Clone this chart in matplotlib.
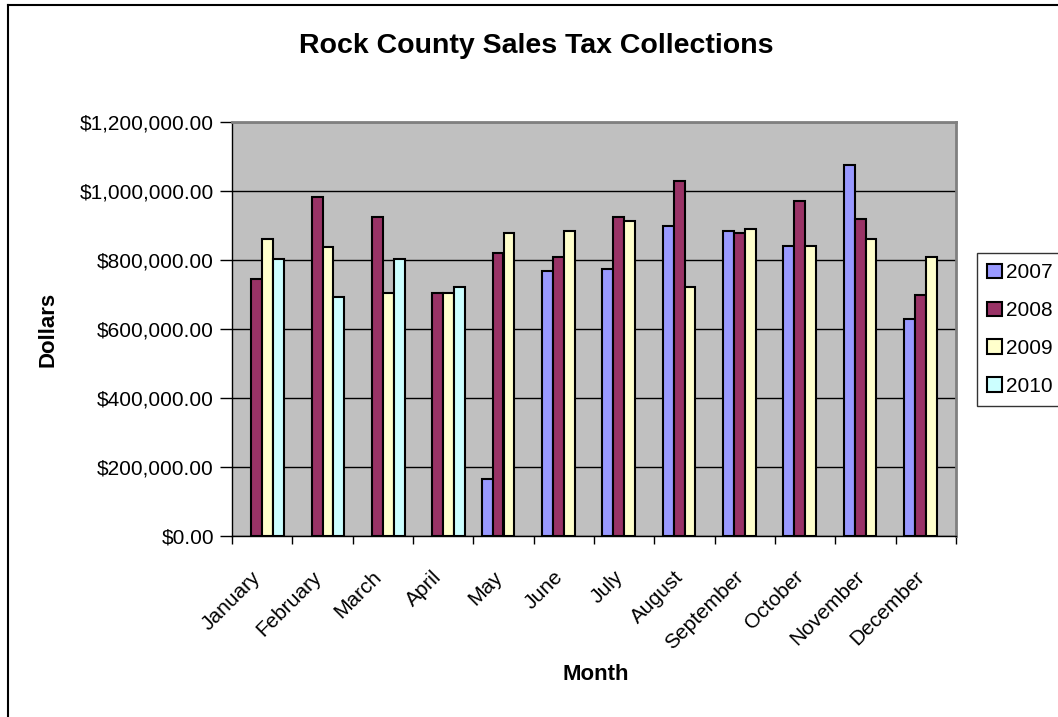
import numpy as np
import matplotlib
matplotlib.use("Agg")
import matplotlib.pyplot as plt
from matplotlib.lines import Line2D
from matplotlib.ticker import FuncFormatter, FixedLocator
from matplotlib.transforms import ScaledTranslation

plt.rcParams['font.family'] = ['Liberation Sans', 'DejaVu Sans']

months = ['January', 'February', 'March', 'April', 'May', 'June',
          'July', 'August', 'September', 'October', 'November', 'December']
years = ['2007', '2008', '2009', '2010']

nan = np.nan
tax_2007 = [nan, nan, nan, nan, 165000, 768000, 774000, 900000,
            885000, 842000, 1075000, 628000]
tax_2008 = [745000, 982000, 924000, 703000, 820000, 808000, 924000, 1028000,
            878000, 971000, 919000, 698000]
tax_2009 = [860000, 837000, 703000, 703000, 878000, 884000, 912000, 721000,
            889000, 842000, 861000, 808000]
tax_2010 = [802000, 692000, 803000, 722000, nan, nan, nan, nan,
            nan, nan, nan, nan]

series = [tax_2007, tax_2008, tax_2009, tax_2010]
colors = ['#9999FF', '#993366', '#FFFFCC', '#CCFFFF']

fig = plt.figure(figsize=(10.58, 7.17), dpi=100)
W, H = 1058, 717
ax = fig.add_axes([232 / W, 1 - 536 / H, 724 / W, 414 / H])
ax.set_facecolor('#C0C0C0')

x = np.arange(len(months))
w = 1 / 5.5
for i, (vals, c, yr) in enumerate(zip(series, colors, years)):
    ax.bar(x + (i - 1.5) * w, vals, width=w, color=c, edgecolor='black',
           linewidth=1.5, label=yr, zorder=3)

ax.set_xlim(-0.5, 11.5)
ax.set_ylim(0, 1200000)
ax.set_yticks(np.arange(0, 1200001, 200000))
ax.yaxis.set_major_formatter(FuncFormatter(lambda v, p: f"${v:,.2f}"))
ax.grid(axis='y', color='black', linewidth=1, zorder=1)

ax.set_xticks(x)
ax.set_xticklabels(months, rotation=45, ha='right', rotation_mode='anchor',
                   fontsize=15)
ax.tick_params(axis='x', which='major', length=0, pad=14)
ax.xaxis.set_minor_locator(FixedLocator(np.arange(-0.5, 12, 1)))
ax.tick_params(axis='x', which='minor', length=6, width=1, direction='out')
ax.tick_params(axis='y', labelsize=15, length=9, width=1, direction='out', pad=4)

# nudge month labels down-left like the original
shift = ScaledTranslation(-11 / 100, -12 / 100, fig.dpi_scale_trans)
for lab in ax.get_xticklabels():
    lab.set_transform(lab.get_transform() + shift)

for s in ['left', 'bottom']:
    ax.spines[s].set_color('black')
    ax.spines[s].set_linewidth(1)
for s in ['top', 'right']:
    ax.spines[s].set_color('#808080')
    ax.spines[s].set_linewidth(2)

fig.text(536 / W, 1 - 46 / H, 'Rock County Sales Tax Collections',
         fontsize=20.5, fontweight='bold', ha='center', va='center')
fig.text(48 / W, 1 - 329 / H, 'Dollars', fontsize=16, fontweight='bold',
         rotation=90, ha='center', va='center')
fig.text(596 / W, 1 - 675 / H, 'Month', fontsize=16, fontweight='bold',
         ha='center', va='center')

leg = ax.legend(loc='upper left', bbox_to_anchor=(977 / W, 1 - 253 / H),
                bbox_transform=fig.transFigure, fontsize=15, frameon=True,
                fancybox=False, edgecolor='black', handlelength=0.7,
                handleheight=0.7, handletextpad=0.2, labelspacing=0.9,
                borderpad=0.5, borderaxespad=0)
leg.get_frame().set_linewidth(1)

# outer chart border (runs off the right and bottom edge)
fig.add_artist(Line2D([8 / W, 8 / W], [1 - 5 / H, -0.1], color='black',
                      linewidth=1.5, transform=fig.transFigure))
fig.add_artist(Line2D([8 / W, 1.1], [1 - 5 / H, 1 - 5 / H], color='black',
                      linewidth=1.5, transform=fig.transFigure))

fig.savefig('out.png', dpi=100)
